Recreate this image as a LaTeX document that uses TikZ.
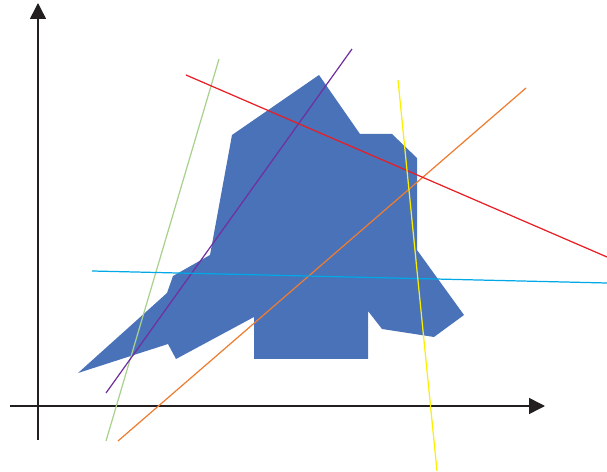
\documentclass[tikz,border=0pt]{standalone}
\usetikzlibrary{arrows.meta}
\definecolor{shapeblue}{RGB}{74,114,184}
\definecolor{axisgray}{RGB}{35,31,32}
\definecolor{lgreen}{RGB}{169,209,142}
\definecolor{lpurple}{RGB}{112,48,160}
\definecolor{lorange}{RGB}{237,125,49}
\definecolor{lred}{RGB}{232,30,36}
\definecolor{lcyan}{RGB}{0,168,230}
\definecolor{lyellow}{RGB}{250,240,0}
\begin{document}
\begin{tikzpicture}[x=0.03cm,y=0.03cm,>={Triangle[length=0.48cm,width=0.48cm]},
    cut/.style={line width=1.05pt}]
\useasboundingbox (0,0) rectangle (607,472);
% region
\fill[shapeblue] (319,397) -- (360,338) -- (392,338) -- (417,314) -- (417,222)
    -- (464,157) -- (434,135) -- (382,143) -- (368,161) -- (368,113) -- (254,113)
    -- (254,155) -- (176,113) -- (168,128) -- (78,99) -- (167,179) -- (173,196)
    -- (210,217) -- (232,337) -- cycle;
% axes
\coordinate (o1) at (38,32);
\coordinate (ytip) at (38,469);
\coordinate (o2) at (10,66);
\coordinate (xtip) at (545,66);
\draw[axisgray,line width=1.3pt,->] (o1) -- (ytip);
\draw[axisgray,line width=1.3pt,->] (o2) -- (xtip);
% lines
\draw[lgreen,cut] (106,31) -- (219,413);
\draw[lpurple,cut] (106,79) -- (352,423);
\draw[lorange,cut] (118,31) -- (526,384);
\draw[lred,cut] (186,397) -- (607,215);
\draw[lcyan,cut] (92,201) -- (607,189);
\draw[lyellow,cut] (398,392) -- (437,1);
\end{tikzpicture}
\end{document}
